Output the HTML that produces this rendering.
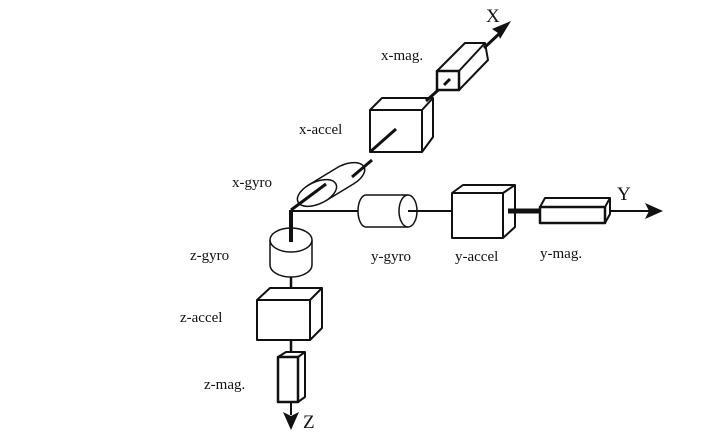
<!DOCTYPE html>
<html><head><style>
html,body{margin:0;padding:0;background:#fff;}
svg{display:block;}
text{font-family:"Liberation Serif",serif;font-size:15px;fill:#111;}
</style></head><body>
<svg width="723" height="445" viewBox="0 0 723 445" xmlns="http://www.w3.org/2000/svg">
<g stroke="#111" stroke-width="2" fill="#fff" stroke-linejoin="round">
<!-- Y axis line -->
<line x1="291" y1="211" x2="650" y2="211" stroke-width="2"/>
<polygon points="663,211 645,203 649,211 645,219" fill="#111" stroke="none"/>
<!-- Z axis -->
<line x1="291" y1="210" x2="291" y2="415" stroke-width="2"/>
<polygon points="291,430 283,412 291,416 299,412" fill="#111" stroke="none"/>
<!-- x-gyro cylinder -->
<path d="M308.4,185.1 L336.4,168.1 A21,11 -25 0 1 353.6,183.9 L325.6,200.9 Z" stroke-width="1.5"/>
<ellipse cx="317" cy="193" rx="21" ry="11" transform="rotate(-25 317 193)" stroke-width="1.5"/>
<line x1="291" y1="210" x2="326" y2="184" stroke-width="3"/>
<line x1="352" y1="177" x2="372" y2="160" stroke-width="3"/>
<!-- x-accel box -->
<polygon points="370,110 382,98 433,98 433,137 422,152 370,152"/>
<line x1="370" y1="110" x2="422" y2="110"/><line x1="422" y1="110" x2="433" y2="98"/><line x1="422" y1="110" x2="422" y2="152"/>
<line x1="370" y1="152" x2="396" y2="129" stroke-width="3"/>
<line x1="426" y1="101" x2="445" y2="84" stroke-width="3"/>
<!-- x-mag -->
<polygon points="437,71 465,43 485,43 488,60 459,90 437,90"/>
<line x1="459" y1="71" x2="485" y2="43"/><line x1="437" y1="71" x2="459" y2="71"/><line x1="459" y1="71" x2="459" y2="90"/>
<rect x="437" y="71" width="22" height="19" stroke-width="2.5"/>
<line x1="444" y1="85" x2="450" y2="79" stroke-width="3"/>
<line x1="484" y1="48" x2="500" y2="33" stroke-width="3"/>
<polygon points="511,21 492,29 498,33 500,39" fill="#111" stroke="none"/>
<!-- y-gyro -->
<path d="M366,195 L408,195 L408,227 L366,227 A8,16 0 0 1 366,195 Z" stroke-width="1.5"/>
<ellipse cx="408" cy="211" rx="9" ry="16" stroke-width="1.5"/>
<line x1="408" y1="211" x2="452" y2="211" stroke-width="2"/>
<!-- y-accel -->
<polygon points="452,193 463,185 515,185 515,227 503,238 452,238"/>
<line x1="452" y1="193" x2="503" y2="193"/><line x1="503" y1="193" x2="515" y2="185"/><line x1="503" y1="193" x2="503" y2="238"/>
<line x1="508" y1="211" x2="540" y2="211" stroke-width="5"/>
<!-- y-mag -->
<polygon points="540,207 545,198 610,198 610,214 605,223 540,223"/>
<line x1="540" y1="207" x2="605" y2="207"/><line x1="605" y1="207" x2="610" y2="198"/><line x1="605" y1="207" x2="605" y2="223"/>
<rect x="540" y="207" width="65" height="16" stroke-width="2.5"/>
<!-- z-gyro -->
<path d="M270,240 L270,265 A21,12 0 0 0 312,265 L312,240" stroke-width="1.5"/>
<ellipse cx="291" cy="240" rx="21" ry="12" stroke-width="1.5"/>
<line x1="291" y1="210" x2="291" y2="242" stroke-width="4"/>
<line x1="291" y1="277" x2="291" y2="290" stroke-width="2.5"/>
<!-- z-accel -->
<polygon points="257,300 270,288 322,288 322,328 310,340 257,340"/>
<line x1="257" y1="300" x2="310" y2="300"/><line x1="310" y1="300" x2="322" y2="288"/><line x1="310" y1="300" x2="310" y2="340"/>
<line x1="291" y1="340" x2="291" y2="357" stroke-width="2.5"/>
<!-- z-mag -->
<polygon points="278,357 286,352 305,352 305,397 298,402 278,402"/>
<line x1="298" y1="357" x2="305" y2="352"/><line x1="298" y1="357" x2="298" y2="402"/>
<rect x="278" y="357" width="20" height="45" stroke-width="2.5"/>
</g>
<text x="486" y="22" style="font-size:19px">X</text>
<text x="617" y="200" style="font-size:19px">Y</text>
<text x="303" y="428" style="font-size:19px">Z</text>
<text x="381" y="60">x-mag.</text>
<text x="299" y="134">x-accel</text>
<text x="232" y="187">x-gyro</text>
<text x="190" y="260">z-gyro</text>
<text x="180" y="322">z-accel</text>
<text x="204" y="389">z-mag.</text>
<text x="371" y="261">y-gyro</text>
<text x="455" y="261">y-accel</text>
<text x="540" y="258">y-mag.</text>
</svg>
</body></html>
